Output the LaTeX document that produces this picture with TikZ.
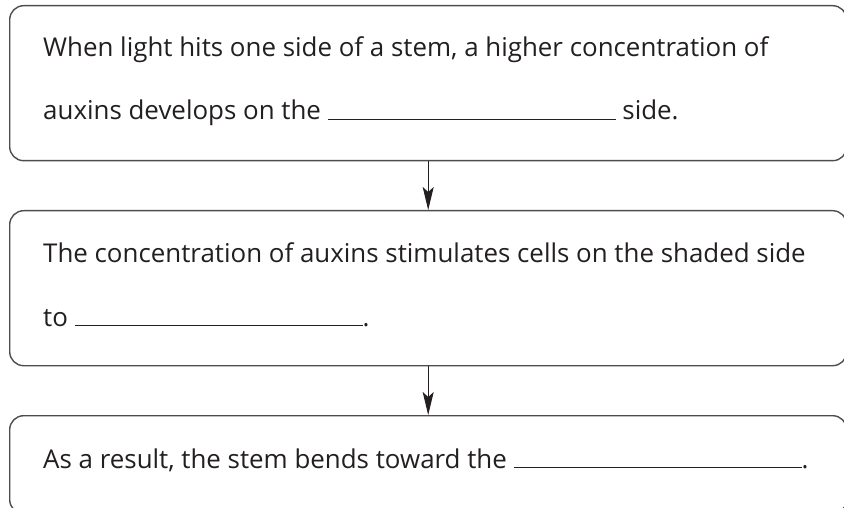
\documentclass[tikz,border=0pt]{standalone}
\usepackage{fontspec}
\setmainfont{Open Sans}
\usetikzlibrary{arrows.meta}
\definecolor{inkgray}{HTML}{231F20}
\definecolor{boxgray}{HTML}{4D4D4D}
\newcommand{\fillin}{\rule{288pt}{0.9pt}}
\tikzset{
  stepbox/.style={draw=boxgray, line width=1.4pt, rounded corners=14pt, minimum width=837pt, inner sep=0pt},
  stepline/.style={anchor=base west, inner sep=0pt, text=inkgray, font=\fontsize{25.9}{26}\selectfont},
  flow/.style={draw=inkgray, line width=1pt, -{Stealth[length=23pt,width=11pt,inset=5pt]}},
}
\begin{document}
\begin{tikzpicture}[x=1pt,y=-1pt]
\useasboundingbox (0,0) rectangle (844,508);
% boxes
\node[stepbox, minimum height=155pt, anchor=north west] (box1) at (9,5) {};
\node[stepbox, minimum height=155pt, anchor=north west] (box2) at (9,210) {};
\node[stepbox, minimum height=98pt, anchor=north west] (box3) at (9,415) {};
% texts
\node[stepline] (line1a) at (43,57) {When light hits one side of a stem, a higher concentration of};
\node[stepline] (line1b) at (43,120) {auxins develops on the \fillin{} side.};
\node[stepline] (line2a) at (43,262) {The concentration of auxins stimulates cells on the shaded side};
\node[stepline] (line2b) at (43,326) {to \fillin.};
\node[stepline] (line3a) at (43,468) {As a result, the stem bends toward the \fillin.};
% arrows
\draw[flow] (box1) -- (box2);
\draw[flow] (box2) -- (box3);
\end{tikzpicture}
\end{document}
